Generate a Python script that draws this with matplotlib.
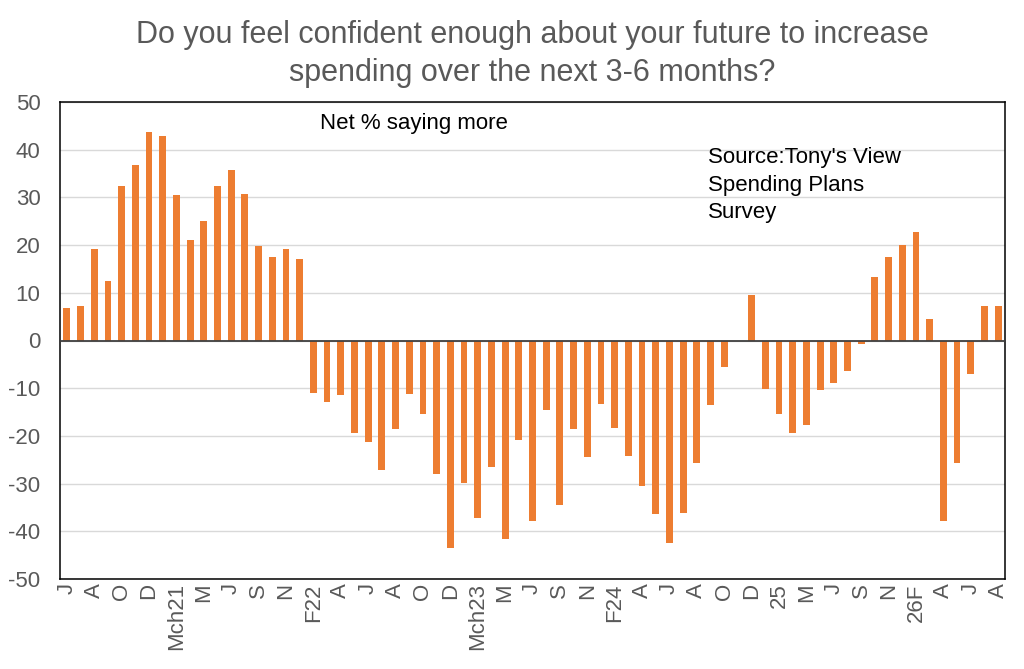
import matplotlib
matplotlib.use("Agg")
import matplotlib.pyplot as plt
import numpy as np

plt.rcParams['font.family'] = ['Liberation Sans', 'DejaVu Sans']
plt.rcParams['axes.unicode_minus'] = False

# net % saying they will spend more, one value per survey
valores = [6.9, 7.3, 19.1, 12.4, 32.3, 36.8, 43.7, 42.9, 30.6, 21.0,
           25.0, 32.3, 35.8, 30.7, 19.8, 17.6, 19.2, 17.1,
           -11.0, -12.9, -11.4, -19.3, -21.3, -27.1, -18.5, -11.3, -15.5, -28.0,
           -43.6, -29.9, -37.2, -26.6, -41.7, -20.8, -37.9, -14.5, -34.5, -18.6,
           -24.5, -13.4, -18.3, -24.3, -30.4, -36.4, -42.5, -36.1, -25.7, -13.5,
           -5.6, 0.0, 9.5, -10.1, -15.5, -19.3, -17.8, -10.4, -8.9, -6.4,
           -0.8, 13.3, 17.5, 20.1, 22.7, 4.5, -37.8, -25.7, -7.1, 7.3, 7.2]

# rotulos a cada duas barras
rotulos = ["J", "A", "O", "D", "Mch21", "M", "J", "S", "N", "F22",
           "A", "J", "A", "O", "D", "Mch23", "M", "J", "S", "N",
           "F24", "A", "J", "A", "O", "D", "25", "M", "J", "S",
           "N", "26F", "A", "J", "A"]

cinza = '#595959'
x = np.arange(len(valores))

fig = plt.figure(figsize=(10.24, 6.69), dpi=100)
ax = fig.add_axes([60/1024, 90/669, 945/1024, 477/669])

ax.bar(x, valores, width=0.5, color='#ED7D31', zorder=3)
ax.axhline(0, color='#404040', linewidth=1.3, zorder=4)

ax.set_xlim(-0.5, len(valores) - 0.5)
ax.set_ylim(-50, 50)
ax.set_yticks(range(-50, 51, 10))
ax.set_xticks(x[::2])
ax.set_xticklabels(rotulos, rotation=90)

ax.grid(axis='y', color='#d9d9d9', linewidth=1, zorder=0)
ax.tick_params(axis='both', length=0, labelsize=16, labelcolor=cinza)
ax.tick_params(axis='y', pad=14)
ax.tick_params(axis='x', pad=3)
for s in ax.spines.values():
    s.set_color('black')
    s.set_linewidth(1.1)

fig.text(532/1024, 1 - 54/669,
         "Do you feel confident enough about your future to increase\nspending over the next 3-6 months?",
         ha='center', va='center', fontsize=22, color=cinza, linespacing=1.35)

ax.text(320/1024, 1 - 123/669, "Net % saying more", transform=fig.transFigure,
        ha='left', va='center', fontsize=16, color='black')
ax.text(708/1024, 1 - 185/669, "Source:Tony's View\nSpending Plans\nSurvey",
        transform=fig.transFigure, ha='left', va='center', fontsize=16,
        color='black', linespacing=1.42)

plt.savefig("out.png", dpi=100)
plt.close()
